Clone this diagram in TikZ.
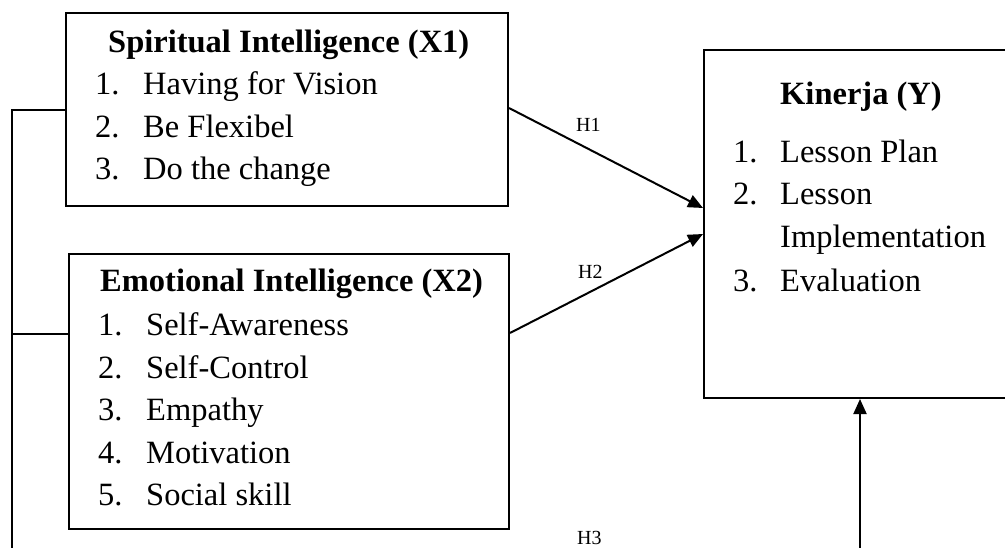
\documentclass[tikz,border=0pt]{standalone}
\usepackage{fontspec}
\setmainfont{Liberation Serif}
\usetikzlibrary{arrows.meta}
\begin{document}
\begin{tikzpicture}[x=1pt,y=-1pt,
  box/.style={draw, line width=2pt, rectangle, anchor=north west, inner sep=0pt},
  txt/.style={anchor=base west, inner sep=0pt, font=\fontsize{32.5}{38}\selectfont},
  ttl/.style={anchor=base west, inner sep=0pt, font=\fontsize{32.5}{38}\selectfont\bfseries},
  hlab/.style={anchor=base west, inner sep=0pt, font=\fontsize{20}{24}\selectfont},
  conn/.style={line width=2pt},
  arr/.style={line width=2pt, -{Triangle[length=15pt,width=13pt]}}]
\useasboundingbox (0,0) rectangle (1005,548);
% boxes
\node[box, minimum width=442pt, minimum height=193pt] (x1) at (65,12) {};
\node[box, minimum width=440pt, minimum height=275pt] (x2) at (68,253) {};
\node[box, minimum width=330pt, minimum height=348pt] (ky) at (703,49) {};
% X1 texts
\node[ttl] (x1t) at (108,53) {Spiritual Intelligence (X1)};
\node[txt] (x1n1) at (95,95) {1.};
\node[txt] (x1i1) at (143,95) {Having for Vision};
\node[txt] (x1n2) at (95,138) {2.};
\node[txt] (x1i2) at (143,138) {Be Flexibel};
\node[txt] (x1n3) at (95,180) {3.};
\node[txt] (x1i3) at (143,180) {Do the change};
% X2 texts
\node[ttl] (x2t) at (100,292) {Emotional Intelligence (X2)};
\node[txt] (x2n1) at (98,335) {1.};
\node[txt] (x2i1) at (146,335) {Self-Awareness};
\node[txt] (x2n2) at (98,378) {2.};
\node[txt] (x2i2) at (146,378) {Self-Control};
\node[txt] (x2n3) at (98,420) {3.};
\node[txt] (x2i3) at (146,420) {Empathy};
\node[txt] (x2n4) at (98,463) {4.};
\node[txt] (x2i4) at (146,463) {Motivation};
\node[txt] (x2n5) at (98,505) {5.};
\node[txt] (x2i5) at (146,505) {Social skill};
% Y texts
\node[ttl] (kyt) at (780,105) {Kinerja (Y)};
\node[txt] (kyn1) at (733,163) {1.};
\node[txt] (kyi1) at (780,163) {Lesson Plan};
\node[txt] (kyn2) at (733,205) {2.};
\node[txt] (kyi2) at (780,205) {Lesson};
\node[txt] (kyi2b) at (780,248) {Implementation};
\node[txt] (kyn3) at (733,292) {3.};
\node[txt] (kyi3) at (780,292) {Evaluation};
% labels
\node[hlab] (h1) at (576,132) {H1};
\node[hlab] (h2) at (578,279) {H2};
\node[hlab] (h3) at (577,544) {H3};
% connectors
\draw[arr] ([yshift=1.5pt]x1.east) -- ([yshift=16pt]ky.west);
\draw[arr] ([yshift=58.5pt]x2.east) -- ([yshift=-10pt]ky.west);
\coordinate (h3s) at (860,560);
\draw[arr] (h3s) -- (h3s |- ky.south);
\coordinate (lb) at (12,560);
\coordinate (j1) at (12,110);
\coordinate (j2) at (12,334);
\draw[conn] (x1.west |- j1) -- (j1) -- (lb);
\draw[conn] (x2.west |- j2) -- (j2);
\end{tikzpicture}
\end{document}
